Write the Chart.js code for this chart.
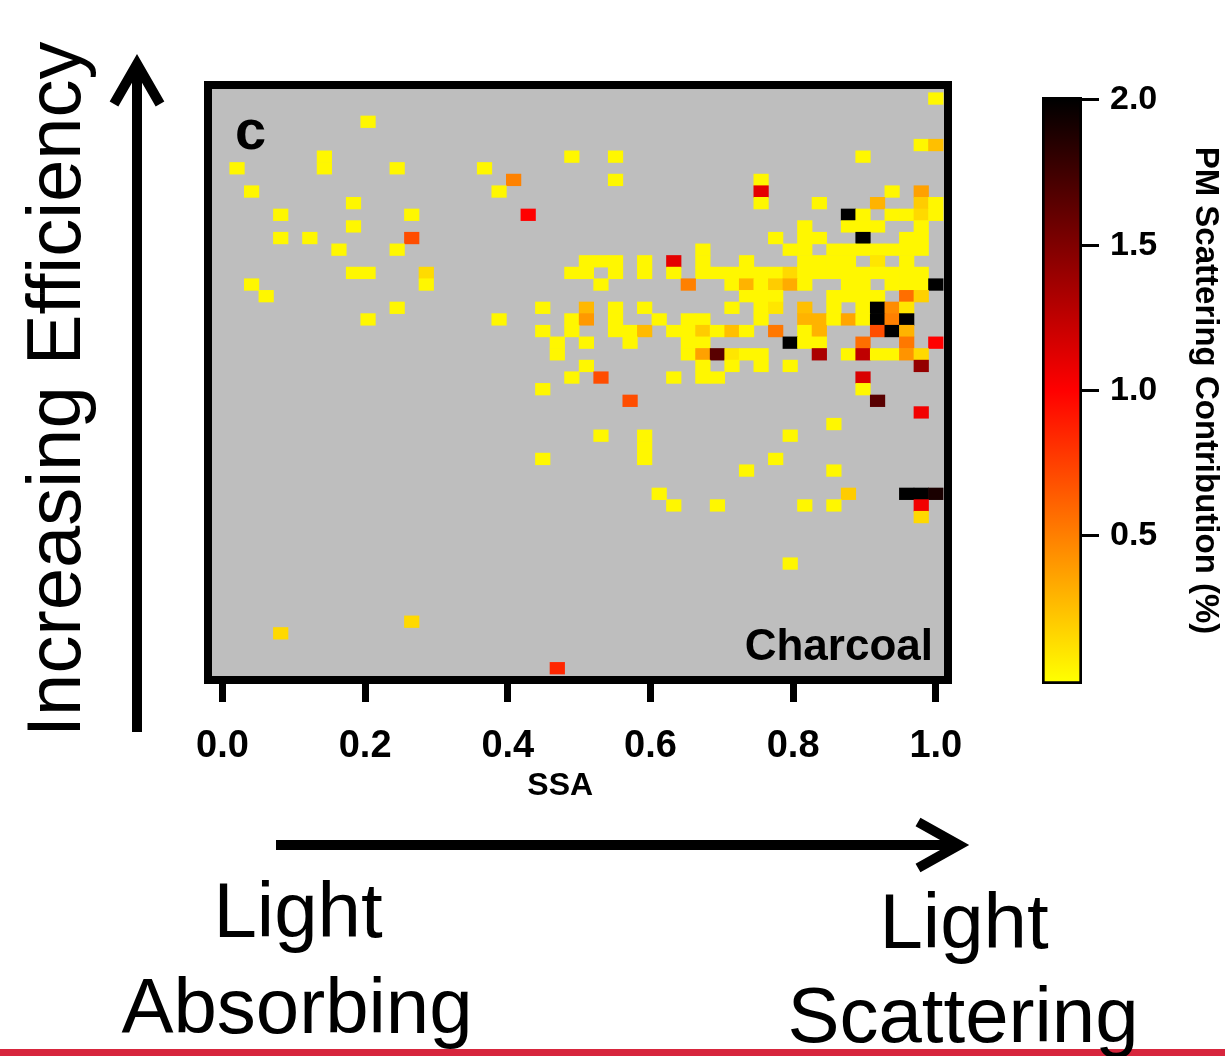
<!DOCTYPE html>
<html>
<head>
<meta charset="utf-8">
<script src="https://cdn.jsdelivr.net/npm/chart.js@4/dist/chart.umd.min.js"></script>
<style>
  body { margin: 0; background: #fff; }
  #page { position: relative; width: 1225px; height: 1056px; overflow: hidden;
          font-family: "Liberation Sans", Arial, sans-serif; color: #000; }
  canvas, svg { position: absolute; left: 0; top: 0; }
  .lbl { position: absolute; line-height: 1; white-space: nowrap; }
  .big { position: absolute; width: 420px; text-align: center; font-size: 78px; line-height: 1; white-space: nowrap; }
  #effLabel { position: absolute; left: 0; top: 0; font-size: 76px; line-height: 1; white-space: nowrap;
              transform-origin: 0 0; transform: translate(16px, 737px) rotate(-90deg); }
</style>
</head>
<body>
<div id="page">
  <canvas id="heat" width="1225" height="1056"></canvas>
  <canvas id="cbar" width="1225" height="1056"></canvas>
  <svg width="1225" height="1056">
    <line x1="137" y1="732" x2="137" y2="66" stroke="#000" stroke-width="10"/>
    <polyline points="114,104 137,64 160,104" fill="none" stroke="#000" stroke-width="10"/>
    <line x1="276" y1="845" x2="958" y2="845" stroke="#000" stroke-width="10"/>
    <polyline points="918,822 959,845 918,868" fill="none" stroke="#000" stroke-width="10"/>
    <rect x="0" y="1049" width="1225" height="7" fill="#d7263d"/>
  </svg>
  <div class="lbl" style="left:235px; top:102px; font-size:56px; font-weight:bold;">c</div>
  <div class="lbl" style="right:292px; top:623px; font-size:44px; font-weight:bold;">Charcoal</div>
  <div id="effLabel">Increasing Efficiency</div>
  <div class="big" style="left:88px; top:871px;">Light</div>
  <div class="big" style="left:87px; top:967px;">Absorbing</div>
  <div class="big" style="left:754px; top:882px;">Light</div>
  <div class="big" style="left:753px; top:976px;">Scattering</div>
</div>
<script>
// SSA bins are 1/49 wide; column index k sits at SSA = k / 49
const ssaStep = 1 / 49;

// efficiency bin of each row (0 = bottom row, 49 = top row)
const effBins = [49, 47, 45, 44, 43, 42, 41, 40, 39, 38, 37, 36, 35, 34, 33, 32, 31, 30, 29, 28,
                 27, 26, 25, 24, 23, 22, 21, 20, 19, 18, 17, 15, 14, 13, 9, 4, 3, 0];

// SSA column indices of the filled cells, one list per row above
const ssaBins = [
  [49],
  [10],
  [48, 49],
  [7, 24, 27, 44],
  [1, 7, 12, 18],
  [20, 27, 37],
  [2, 19, 37, 46, 48],
  [9, 37, 41, 45, 48, 49],
  [4, 13, 21, 43, 44, 46, 47, 48, 49],
  [9, 40, 43, 44, 45, 48],
  [4, 6, 13, 38, 40, 41, 44, 47, 48],
  [8, 12, 33, 39, 40, 42, 43, 44, 45, 46, 47, 48],
  [25, 26, 27, 29, 31, 33, 36, 40, 41, 42, 43, 45, 47],
  [9, 10, 14, 24, 25, 27, 29, 31, 33, 34, 35, 36, 37, 38, 39, 40, 41, 42, 43, 44, 45, 46, 47, 48],
  [2, 14, 26, 32, 35, 36, 37, 38, 39, 40, 43, 44, 46, 47, 48, 49],
  [3, 36, 37, 38, 42, 43, 44, 45, 47, 48],
  [12, 22, 25, 27, 29, 35, 37, 38, 40, 42, 44, 45, 46, 47],
  [10, 19, 24, 25, 27, 30, 32, 33, 37, 40, 41, 42, 43, 44, 45, 46, 47],
  [22, 24, 27, 28, 29, 31, 32, 33, 34, 35, 36, 38, 40, 41, 45, 46, 47],
  [23, 25, 28, 32, 33, 39, 40, 41, 44, 47, 49],
  [23, 32, 33, 34, 35, 36, 37, 41, 43, 44, 45, 46, 47, 48],
  [25, 33, 35, 37, 39, 48],
  [24, 26, 31, 33, 34, 44],
  [22, 44],
  [28, 45],
  [48],
  [42],
  [26, 29, 39],
  [29],
  [22, 29, 38],
  [36, 42],
  [30, 43, 47, 48, 49],
  [31, 34, 40, 42, 48],
  [48],
  [39],
  [13],
  [4],
  [23]
];

// PM scattering contribution (%) of each cell, same layout as ssaBins
const pmScatter = [
  [0.03],
  [0.03],
  [0.03, 0.25],
  [0.03, 0.03, 0.03, 0.03],
  [0.03, 0.03, 0.03, 0.03],
  [0.49, 0.03, 0.03],
  [0.03, 0.03, 1.1, 0.03, 0.37],
  [0.03, 0.03, 0.03, 0.3, 0.2, 0.03],
  [0.03, 0.03, 1.0, 2.0, 0.03, 0.03, 0.03, 0.15, 0.03],
  [0.03, 0.03, 0.03, 0.03, 0.03, 0.03],
  [0.03, 0.03, 0.7, 0.03, 0.03, 0.03, 2.0, 0.03, 0.03],
  [0.03, 0.03, 0.03, 0.03, 0.03, 0.03, 0.03, 0.03, 0.03, 0.03, 0.03, 0.03],
  [0.03, 0.03, 0.03, 0.03, 1.1, 0.03, 0.03, 0.03, 0.03, 0.03, 0.03, 0.1, 0.03],
  [0.03, 0.03, 0.14, 0.03, 0.03, 0.03, 0.03, 0.03, 0.03, 0.03, 0.03, 0.03, 0.03, 0.03, 0.15, 0.03, 0.03, 0.03, 0.03, 0.03, 0.03, 0.03, 0.03, 0.03],
  [0.03, 0.03, 0.03, 0.5, 0.03, 0.3, 0.03, 0.2, 0.33, 0.03, 0.03, 0.03, 0.03, 0.03, 0.03, 2.0],
  [0.03, 0.03, 0.03, 0.03, 0.03, 0.03, 0.03, 0.03, 0.57, 0.18],
  [0.03, 0.03, 0.28, 0.03, 0.03, 0.03, 0.03, 0.1, 0.25, 0.03, 0.03, 2.0, 0.45, 0.1],
  [0.03, 0.03, 0.03, 0.4, 0.03, 0.03, 0.03, 0.03, 0.03, 0.3, 0.3, 0.03, 0.35, 0.03, 2.0, 0.5, 2.0],
  [0.03, 0.03, 0.03, 0.03, 0.27, 0.03, 0.03, 0.2, 0.03, 0.25, 0.03, 0.53, 0.03, 0.3, 0.7, 2.0, 0.3],
  [0.03, 0.03, 0.03, 0.03, 0.03, 2.0, 0.03, 0.03, 0.57, 0.53, 1.0],
  [0.03, 0.03, 0.37, 1.65, 0.1, 0.03, 0.03, 1.33, 0.03, 1.25, 0.03, 0.03, 0.42, 0.15],
  [0.03, 0.03, 0.03, 0.03, 0.03, 1.42],
  [0.03, 0.7, 0.03, 0.03, 0.03, 1.15],
  [0.03, 0.03],
  [0.7, 1.65],
  [1.05],
  [0.03],
  [0.03, 0.03, 0.03],
  [0.03],
  [0.03, 0.03, 0.03],
  [0.03, 0.03],
  [0.03, 0.2, 2.0, 2.0, 1.9],
  [0.03, 0.03, 0.03, 0.03, 1.05],
  [0.15],
  [0.03],
  [0.15],
  [0.15],
  [0.85]
];

const ssaTicks = [0.0, 0.2, 0.4, 0.6, 0.8, 1.0];
const colorTicks = [0.5, 1.0, 1.5, 2.0];

Chart.defaults.font.family = '"Liberation Sans", Arial, sans-serif';
Chart.defaults.color = '#000';

// yellow -> red -> black, 0 to 2 %
function heatColor(v) {
  const t = Math.max(0, Math.min(2, v));
  if (t <= 1) return `rgb(255, ${Math.round(255 * (1 - t))}, 0)`;
  return `rgb(${Math.round(255 * (2 - t))}, 0, 0)`;
}

// flatten rows into floating bars, one per cell
const cells = [];
const cellValues = [];
effBins.forEach((row, i) => {
  ssaBins[i].forEach((col, j) => {
    cells.push({ x: col * ssaStep, y: [row - 0.5, row + 0.5] });
    cellValues.push(pmScatter[i][j]);
  });
});

// grey plot background and thick black frame
const plotFrame = {
  id: 'plotFrame',
  beforeDatasetsDraw(chart) {
    const { ctx, chartArea: a } = chart;
    ctx.save();
    ctx.fillStyle = '#bebebe';
    ctx.fillRect(a.left, a.top, a.width, a.height);
    ctx.restore();
  },
  afterDatasetsDraw(chart) {
    const { ctx, chartArea: a } = chart;
    ctx.save();
    ctx.strokeStyle = '#000';
    ctx.lineWidth = 8;
    ctx.strokeRect(a.left - 4, a.top - 4, a.width + 8, a.height + 8);
    ctx.restore();
  }
};

new Chart(document.getElementById('heat'), {
  type: 'bar',
  data: {
    datasets: [{
      data: cells,
      backgroundColor: ctx => heatColor(cellValues[ctx.dataIndex]),
      borderWidth: 0,
      grouped: false,
      barPercentage: 1,
      categoryPercentage: 1
    }]
  },
  options: {
    responsive: false,
    animation: false,
    devicePixelRatio: 1,
    events: [],
    layout: { padding: { left: 212, top: 89, right: 281, bottom: 251 } },
    plugins: { legend: { display: false }, tooltip: { enabled: false } },
    scales: {
      x: {
        type: 'linear',
        bounds: 'data',
        min: -0.0147,
        max: 1.0115,
        offset: false,
        afterBuildTicks: s => { s.ticks = ssaTicks.map(v => ({ value: v })); },
        afterFit: s => { s.height = 129; },
        grid: { offset: false, drawOnChartArea: false, drawTicks: true, tickLength: 26, tickWidth: 7, tickColor: '#000' },
        border: { display: false },
        ticks: {
          padding: 22,
          color: '#000',
          autoSkip: false,
          maxRotation: 0,
          font: { size: 38, weight: 'bold' },
          callback: v => v.toFixed(1)
        },
        title: { display: true, text: 'SSA    ', color: '#000', padding: 0, font: { size: 32, weight: 'bold' } }
      },
      y: {
        type: 'linear',
        display: false,
        bounds: 'data',
        min: -0.67,
        max: 49.82
      }
    }
  },
  plugins: [plotFrame]
});

// colour bar as a single floating bar filled with the colormap
new Chart(document.getElementById('cbar'), {
  type: 'bar',
  data: {
    labels: [''],
    datasets: [{
      data: [[-0.01, 2.01]],
      backgroundColor: ctx => {
        const { chart } = ctx;
        const y = chart.scales.y;
        if (!chart.chartArea || !y) return '#ff0000';
        const g = chart.ctx.createLinearGradient(0, y.getPixelForValue(0), 0, y.getPixelForValue(2));
        g.addColorStop(0, heatColor(0));
        g.addColorStop(0.5, heatColor(1));
        g.addColorStop(1, heatColor(2));
        return g;
      },
      borderColor: '#000',
      borderWidth: 3,
      borderSkipped: false,
      barPercentage: 1,
      categoryPercentage: 1
    }]
  },
  options: {
    responsive: false,
    animation: false,
    devicePixelRatio: 1,
    events: [],
    layout: { padding: { left: 1042, top: 97, right: 0, bottom: 372 } },
    plugins: { legend: { display: false }, tooltip: { enabled: false } },
    scales: {
      x: { display: false },
      y: {
        position: 'right',
        bounds: 'data',
        min: -0.01,
        max: 2.01,
        afterBuildTicks: s => { s.ticks = colorTicks.map(v => ({ value: v })); },
        afterFit: s => { s.width = 143; },
        grid: { drawOnChartArea: false, drawTicks: true, tickLength: 17, tickWidth: 3, tickColor: '#000' },
        border: { display: false },
        ticks: { padding: 11, color: '#000', font: { size: 34, weight: 'bold' }, callback: v => v.toFixed(1) },
        title: { display: true, text: 'PM Scattering Contribution (%)', color: '#000', padding: 0, font: { size: 33, weight: 'bold' } }
      }
    }
  }
});
</script>
</body>
</html>
